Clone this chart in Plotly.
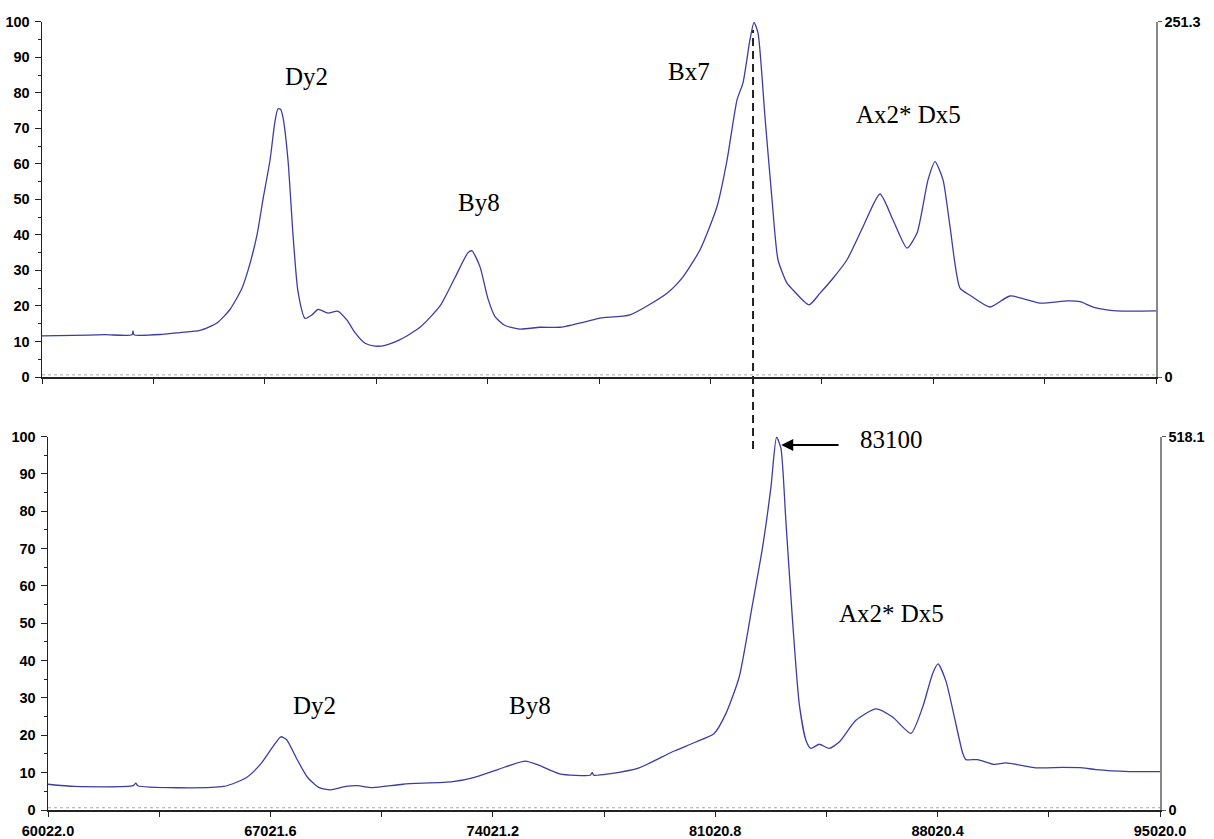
import plotly.graph_objects as go

# ---------------- data ----------------
top_mz = [60022, 61000, 62000, 62850, 62880, 62910, 63800, 64358, 64986, 65520,
          65928, 66305, 66494, 66777, 66965, 67185, 67342, 67436, 67520, 67594,
          67751, 67908, 68065, 68285, 68505, 68693, 69007, 69321, 69604, 69856,
          70170, 70484, 70800, 71269, 71898, 72526, 72997, 73406, 73531, 73783,
          74034, 74254, 74568, 75040, 75668, 76296, 77082, 77553, 78495, 79658,
          80160, 80694, 81229, 81543, 81857, 82045, 82265, 82391, 82517, 82737,
          82956, 83145, 83428, 83616, 84119, 84465, 84873, 85313, 85816, 86349,
          86758, 87198, 87512, 87858, 88078, 88329, 88549, 88863, 89177, 89806,
          90434, 91377, 92225, 92633, 93041, 93795, 95020]
top_int = [11.6, 11.7, 11.9, 11.9, 13.0, 11.9, 12.0, 12.5, 13.1, 15.2,
           19.0, 25.0, 30.0, 40.0, 50.0, 61.0, 72.0, 75.5, 75.3, 73.0,
           61.0, 40.0, 24.0, 16.5, 17.5, 19.0, 18.0, 18.5, 16.0, 12.5,
           9.5, 8.7, 8.9, 10.5, 14.0, 20.0, 28.0, 35.0, 35.5, 31.0,
           22.0, 17.0, 14.5, 13.5, 14.0, 14.0, 15.5, 16.6, 17.5, 23.6,
           28.2, 35.8, 48.0, 61.0, 78.0, 82.8, 95.0, 99.8, 96.8, 73.0,
           50.0, 33.0, 26.4, 24.5, 20.3, 23.6, 27.8, 33.0, 42.3, 51.5,
           44.2, 36.3, 40.5, 55.5, 60.6, 55.5, 42.3, 25.0, 23.0, 19.7,
           22.8, 20.8, 21.4, 21.2, 19.7, 18.6, 18.6]

bot_mz = [60022, 60863, 62700, 62786, 62850, 65550, 66271, 66752, 67112, 67352,
          67532, 67833, 68193, 68554, 68914, 69395, 69755, 70236, 71197, 72760,
          73420, 74200, 75042, 75522, 76123, 77084, 77150, 77200, 77685, 78628,
          79678, 80412, 80989, 81357, 81776, 82196, 82511, 82773, 82952, 83088,
          83245, 83455, 83665, 83875, 84032, 84295, 84610, 84925, 85449, 86079,
          86604, 87181, 87548, 87863, 88035, 88283, 88545, 88808, 88912, 89280,
          89804, 90172, 91116, 91955, 92585, 93005, 94055, 95020]
bot_int = [6.9, 6.3, 6.5, 7.2, 6.5, 6.3, 8.7, 12.7, 17.1, 19.6,
           18.8, 14.0, 8.7, 6.0, 5.4, 6.3, 6.5, 6.0, 6.9, 7.6,
           8.7, 10.9, 13.1, 11.8, 9.7, 9.3, 10.0, 9.3, 9.7, 11.3,
           15.6, 18.2, 20.5, 25.8, 35.6, 55.1, 70.3, 86.3, 99.8, 96.9,
           77.4, 50.7, 28.5, 18.7, 16.5, 17.6, 16.5, 18.2, 24.0, 27.1,
           24.9, 20.5, 27.5, 36.5, 39.1, 34.5, 25.0, 15.3, 13.5, 13.5,
           12.2, 12.6, 11.3, 11.4, 11.3, 10.8, 10.3, 10.3]

x_ticks = [60022.0, 63521.8, 67021.6, 70521.4, 74021.2, 77521.0, 81020.8,
           84520.6, 88020.4, 91520.2, 95020.0]
x_ticktext = ["60022.0", "", "67021.6", "", "74021.2", "", "81020.8", "",
              "88020.4", "", "95020.0"]
y_ticks = [0, 10, 20, 30, 40, 50, 60, 70, 80, 90, 100]
y_minor = [5, 15, 25, 35, 45, 55, 65, 75, 85, 95]
top_abs_range = [0, 251.3]
bot_abs_range = [0, 518.1]

top_labels = ["Dy2", "By8", "Bx7", "Ax2* Dx5"]
top_label_x = [68347, 73751, 80349, 87240]
top_label_y = [84.5, 49.0, 86.0, 74.0]
bot_labels = ["Dy2", "By8", "Ax2* Dx5"]
bot_label_x = [68394, 75192, 86585]
bot_label_y = [28.0, 28.0, 52.5]
peak_label = "83100"
peak_mz = 83100
top_peak_mz = 82360

# ---------------- figure ----------------
# the page body margin is removed (post_script), so the figure fills the window
W, H = 1214, 839


def dx(px):
    return px / W


def dy(py):
    return 1 - py / H


LINE = "#3c3ca6"
tickfont = dict(family="Liberation Sans", size=14.5, color="black", weight="bold")
serif = dict(family="Liberation Serif", size=25, color="black")
curve = dict(color=LINE, width=1.3, shape="spline", smoothing=0.6)

fig = go.Figure()
fig.add_trace(go.Scatter(x=top_mz, y=top_int, xaxis="x", yaxis="y", mode="lines",
                         line=curve, showlegend=False))
fig.add_trace(go.Scatter(x=bot_mz, y=bot_int, xaxis="x2", yaxis="y2", mode="lines",
                         line=curve, showlegend=False))
# empty helper traces so the absolute-intensity axes on the right are drawn
fig.add_trace(go.Scatter(x=[x_ticks[0], x_ticks[-1]], y=top_abs_range, xaxis="x",
                         yaxis="y3", mode="none", hoverinfo="skip", showlegend=False))
fig.add_trace(go.Scatter(x=[x_ticks[0], x_ticks[-1]], y=bot_abs_range, xaxis="x2",
                         yaxis="y4", mode="none", hoverinfo="skip", showlegend=False))

axis_common = dict(showgrid=False, zeroline=False, showline=True, linecolor="#222",
                   linewidth=1.5, ticks="outside", tickcolor="#222", automargin=False,
                   tickfont=tickfont, fixedrange=True)

fig.update_layout(
    width=W, height=H, template="none",
    paper_bgcolor="white", plot_bgcolor="rgba(0,0,0,0)",
    margin=dict(l=0, r=0, t=0, b=0),
    xaxis=dict(axis_common, domain=[dx(42), dx(1156)], range=[60022, 95020], anchor="y",
               tickvals=x_ticks, showticklabels=False, ticklen=5),
    yaxis=dict(axis_common, domain=[dy(377), dy(21.7)], range=[0, 100], anchor="x",
               tickvals=y_ticks, ticklen=6, ticklabelstandoff=2,
               minor=dict(tickvals=y_minor, ticklen=3, ticks="outside", tickcolor="#222")),
    yaxis3=dict(axis_common, overlaying="y", side="right", anchor="x",
                range=top_abs_range, tickvals=top_abs_range,
                ticktext=["0", "251.3"], linecolor="#888", ticklen=4, tickcolor="#555"),
    xaxis2=dict(axis_common, domain=[dx(48), dx(1160)], range=[60022, 95020], anchor="y2",
                tickvals=x_ticks, ticktext=x_ticktext, ticklen=5, ticklabelstandoff=2),
    yaxis2=dict(axis_common, domain=[dy(810), dy(436.5)], range=[0, 100], anchor="x2",
                tickvals=y_ticks, ticklen=6, ticklabelstandoff=2,
                minor=dict(tickvals=y_minor, ticklen=3, ticks="outside", tickcolor="#222")),
    yaxis4=dict(axis_common, overlaying="y2", side="right", anchor="x2",
                range=bot_abs_range, tickvals=bot_abs_range,
                ticktext=["0", "518.1"], linecolor="#888", ticklen=4, tickcolor="#555"),
)

# faint dotted baselines just above the x axes
for xr, yr in (("x", "y"), ("x2", "y2")):
    fig.add_shape(type="line", xref=xr, yref=yr, x0=x_ticks[0], x1=x_ticks[-1],
                  y0=0.6, y1=0.6, line=dict(color="#aaaaaa", width=1, dash="dot"))

# dashed vertical line linking the two panels
fig.add_shape(type="line", xref="x", yref="paper", x0=top_peak_mz, x1=top_peak_mz,
              y0=dy(449), y1=dy(30),
              line=dict(color="#222", width=2, dash="8px,5px"))

annotations = []
for t, x, y in zip(top_labels, top_label_x, top_label_y):
    annotations.append(dict(text=t, x=x, y=y, xref="x", yref="y", showarrow=False,
                            font=serif))
for t, x, y in zip(bot_labels, bot_label_x, bot_label_y):
    annotations.append(dict(text=t, x=x, y=y, xref="x2", yref="y2", showarrow=False,
                            font=serif))
# arrow to the 83100 peak
annotations.append(dict(text="", x=peak_mz, y=97.7, xref="x2", yref="y2",
                        ax=84950, ay=97.7, axref="x2", ayref="y2", showarrow=True,
                        arrowhead=2, arrowsize=1.2, arrowwidth=2, arrowcolor="black",
                        standoff=0))
annotations.append(dict(text=peak_label, x=85515, y=99.3, xref="x2", yref="y2",
                        xanchor="left", showarrow=False, font=serif))
fig.update_layout(annotations=annotations, hovermode=False)

fig.write_html("out.html",
               config={"displayModeBar": False, "staticPlot": True},
               post_script="document.body.style.margin='0';"
                           "document.body.style.overflow='hidden';")
